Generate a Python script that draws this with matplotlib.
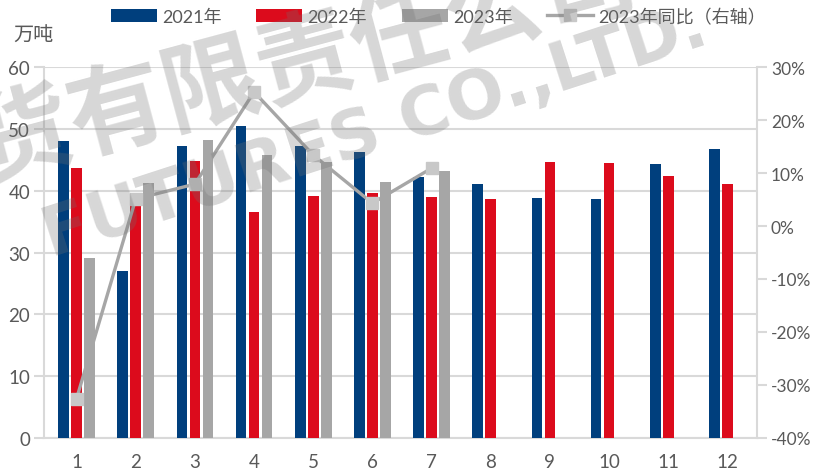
import matplotlib.pyplot as plt
import numpy as np
from matplotlib.ticker import FuncFormatter

plt.rcParams['font.family'] = ['Lato', 'Noto Sans CJK SC', 'DejaVu Sans']

# data
months = [1, 2, 3, 4, 5, 6, 7, 8, 9, 10, 11, 12]
y2021 = [48.1, 27.0, 47.2, 50.5, 47.2, 46.3, 42.2, 41.1, 38.8, 38.7, 44.3, 46.8]
y2022 = [43.7, 38.0, 44.8, 36.6, 39.2, 39.6, 39.0, 38.7, 44.7, 44.5, 42.4, 41.1]
y2023 = [29.1, 41.3, 48.2, 45.8, 44.7, 41.4, 43.2]
yoy2023 = [-32.6, 5.1, 7.9, 25.3, 13.4, 4.3, 10.9]

c21 = '#003f7d'
c22 = '#dc0b1c'
c23 = '#a6a6a6'
txt = '#595959'
grid = '#d9d9d9'

fig = plt.figure(figsize=(8.13, 4.77), dpi=100)
ax = fig.add_axes([0.0541, 0.0797, 0.8770, 0.7777])

x = np.array(months)
w = 0.18
off = 0.22
ax.bar(x - off, y2021, w, color=c21, label='2021年', zorder=3)
ax.bar(x, y2022, w, color=c22, label='2022年', zorder=3)
ax.bar(x[:len(y2023)] + off, y2023, w, color=c23, label='2023年', zorder=3)

ax.set_xlim(0.45, 12.5)
ax.set_ylim(0, 60)
ax.set_yticks(range(0, 61, 10))
ax.set_xticks(months)
ax.grid(axis='y', color=grid, linewidth=1.5, zorder=0)
for s in ['top', 'right']:
    ax.spines[s].set_visible(False)
ax.spines['left'].set_color(grid)
ax.spines['left'].set_linewidth(1.5)
ax.spines['bottom'].set_color(grid)
ax.spines['bottom'].set_linewidth(1.5)
ax.tick_params(axis='y', colors=grid, length=7, width=1.5, labelcolor=txt, labelsize=13.5, pad=3)
ax.tick_params(axis='x', length=0, labelcolor=txt, labelsize=13.5, pad=11)

ax2 = ax.twinx()
ax2.set_ylim(-40, 30)
ax2.set_yticks(range(-40, 31, 10))
ax2.yaxis.set_major_formatter(FuncFormatter(lambda v, p: f'{v:.0f}%'))
for s in ['top', 'left', 'bottom']:
    ax2.spines[s].set_visible(False)
ax2.spines['right'].set_color(grid)
ax2.spines['right'].set_linewidth(1.5)
ax2.tick_params(axis='y', colors=grid, length=7, width=1.5, labelcolor=txt, labelsize=12.5, pad=3)
ax2.plot(months[:len(yoy2023)], yoy2023, color='#a6a6a6', linewidth=2.4,
         marker='s', markersize=8, markerfacecolor='#c8c8c8', markeredgecolor='#c8c8c8',
         label='2023年同比（右轴）', zorder=5)

fig.text(0.016, 0.925, '万吨', color=txt, fontsize=14.5, va='center', ha='left')

h1, l1 = ax.get_legend_handles_labels()
h2, l2 = ax2.get_legend_handles_labels()
fig.legend(h1 + h2, l1 + l2, loc='center left', bbox_to_anchor=(0.1365, 0.964), ncol=4,
           frameon=False, fontsize=13, labelcolor=txt, handlelength=2.55, handleheight=0.75,
           columnspacing=1.9, handletextpad=0.3, borderaxespad=0, borderpad=0)

# faint watermark
fig.text(-0.143, 0.631, '期货有限责任公司', fontsize=70, color='#707070', alpha=0.28,
         rotation=15, rotation_mode='anchor', ha='left', va='center',
         fontweight='bold', family=['Noto Sans CJK SC'], zorder=10)
fig.text(0.461, 0.723, 'FUTURES CO.,LTD.', fontsize=49, color='#707070', alpha=0.28,
         rotation=18, rotation_mode='anchor', ha='center', va='center',
         fontweight='bold', family=['DejaVu Sans'], zorder=10)

fig.savefig('out.png', dpi=100)
